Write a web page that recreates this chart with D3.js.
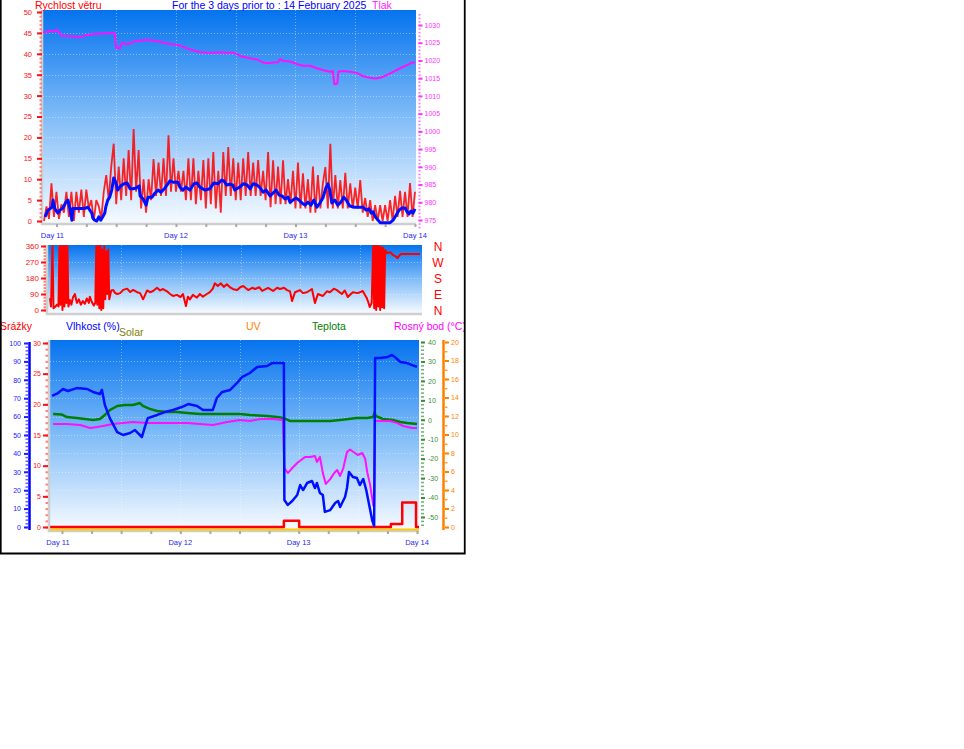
<!DOCTYPE html>
<html>
<head>
<meta charset="utf-8">
<script src="https://d3js.org/d3.v7.min.js"></script>
<style>
	body { margin: 0; background: #fff; }
	text { font-family: "Liberation Sans", Arial, sans-serif; }
</style>
</head>
<body>
<svg width="964" height="749"></svg>
<script>
// hours are counted from the start of Day 11
var dayLabels = ["Day 11", "Day 12", "Day 13", "Day 14"];
var dayHours = [0, 24, 48, 72];

var windTicks = [0, 5, 10, 15, 20, 25, 30, 35, 40, 45, 50];
var pressTicks = [975, 980, 985, 990, 995, 1000, 1005, 1010, 1015, 1020, 1025, 1030];
var dirTicks = [0, 90, 180, 270, 360];
var dirLetters = ["N", "E", "S", "W", "N"];
var humTicks = [0, 10, 20, 30, 40, 50, 60, 70, 80, 90, 100];
var rainTicks = [0, 5, 10, 15, 20, 25, 30];
var tempTicks = [-50, -40, -30, -20, -10, 0, 10, 20, 30, 40];
var uvTicks = [0, 2, 4, 6, 8, 10, 12, 14, 16, 18, 20];

// gusts, one reading every half hour from -2.5 h
var gustStart = -2.5, gustStep = 0.5;
var windGust = [
	0, 3.5, 0.5, 9, 1, 7, 0.5, 4, 2, 7, 1, 7, 0, 7, 2, 7.5,
	1, 7.5, 3, 5, 0, 5, 3.5, 0.5, 7, 11, 5, 13, 18.5, 4, 13, 5,
	15, 6, 17, 5, 22, 7, 17, 3, 10, 2, 10, 5, 14.8, 6, 14, 6,
	15, 6, 20.5, 7, 15, 7, 12, 7, 12, 5, 15, 5, 15, 4, 12, 5,
	14.6, 3, 15, 4, 16.5, 3, 12, 2, 16.5, 6, 17.7, 6, 15, 5, 14, 5,
	15, 6, 16.5, 6, 14, 6, 14.6, 6, 12, 5, 16.5, 3.3, 14.5, 4, 13, 4,
	14.5, 4, 10, 4, 12, 3, 14, 3, 11.4, 3, 10, 2, 13, 2, 11, 3,
	9, 12.9, 3, 18.5, 3, 11, 3, 9.8, 3, 11.5, 3, 9, 3, 8, 3, 9.8,
	2, 5.5, 1, 5, 0, 3.8, 0, 3.8, 0, 3.8, 0, 5, 0, 6, 1, 7.2,
	1, 7, 1, 9.1, 1, 7
];

var windAvg = [[-2.3,1.0],[-1.7,2.6],[-0.9,3.3],[-0.7,5],[-0.3,2.9],[0.3,1.9],[0.7,2.6],[1.3,3.1],[1.9,4.5],[2.3,5],[2.7,3.1],[3.1,0.2],[3.3,3],[4.3,3],[5.7,3],[6.3,3.3],[7.1,1.9],[7.3,0.7],[7.7,0.2],[8.1,0],[8.5,1],[8.9,0.2],[9.3,1],[9.7,1.9],[9.9,3.3],[10.3,5],[10.7,5.7],[11.1,7.4],[11.5,10.3],[11.9,9.3],[12.3,7.4],[12.9,8.4],[13.6,8.9],[14.2,9.1],[14.8,7.7],[15.4,7.7],[16.0,7.9],[16.6,8.4],[16.8,6],[17.4,5.3],[18.0,3.8],[18.4,5.7],[19.2,5.7],[19.8,6.7],[20.4,7.4],[21.0,6.9],[21.8,7.9],[22.8,9.6],[23.4,9.3],[24.4,9.3],[24.8,8.1],[25.4,7.4],[26.0,8.1],[26.8,7.4],[27.6,8.9],[28.2,9.1],[28.8,8.1],[29.8,7.4],[30.8,7.7],[31.6,9.1],[32.4,8.9],[33.2,9.8],[33.6,9.6],[34.2,8.6],[34.8,8.8],[35.4,8.6],[35.8,7.4],[36.2,7.7],[36.8,8.1],[37.5,8.9],[38.3,8.6],[38.9,7.7],[39.5,8.9],[40.3,8.6],[40.9,7.9],[41.5,6.9],[42.1,7.4],[42.9,6],[43.5,6.7],[44.1,7.4],[44.7,6.2],[45.3,6.0],[45.9,5.3],[46.5,5.7],[46.9,4.5],[47.5,5.0],[48.1,5.5],[48.7,5],[49.3,4.3],[49.9,3.8],[50.5,4.5],[51.1,3.8],[51.7,5],[52.3,3.3],[52.9,4.3],[53.5,5.5],[54.1,7.9],[54.5,8.9],[54.9,7.4],[55.3,4.3],[55.9,5],[56.5,3.8],[57.1,4.5],[57.7,5.7],[58.3,4.8],[58.9,3.6],[59.9,3.3],[60.9,3.3],[61.6,3.3],[62.2,2.6],[62.8,2.9],[63.2,1.9],[63.6,2.2],[64.0,1.0],[64.6,0.2],[65.0,-0.4],[66.0,-0.4],[67.0,-0.4],[67.6,0.2],[68.2,1.4],[68.8,2.6],[69.4,3.1],[70.0,3.1],[70.4,2.2],[70.8,1.7],[71.2,2.4],[71.6,1.9],[72.0,2.9]];

var pressure = [[-2.7,1027.9],[-1.7,1028.1],[-1.3,1028.4],[-0.7,1028.1],[0.1,1028.6],[0.5,1027.9],[1.1,1027.0],[2.1,1026.9],[4.1,1026.7],[4.7,1026.5],[6.1,1027.2],[8.1,1027.5],[10.1,1027.7],[11.7,1027.7],[12.0,1023.6],[12.7,1023.4],[13.2,1025.0],[13.6,1024.8],[14.4,1024.6],[15.4,1025.3],[16.8,1025.6],[18.2,1025.8],[19.4,1025.6],[20.8,1025.3],[22.2,1024.8],[23.4,1024.6],[24.8,1024.2],[26.2,1023.4],[27.4,1022.9],[28.8,1022.4],[30.2,1022.2],[31.4,1022.2],[32.8,1022.3],[34.2,1022.2],[35.4,1022.2],[36.4,1021.7],[37.2,1021.1],[38.9,1020.6],[40.3,1020.3],[41.5,1019.4],[42.5,1019.2],[43.5,1019.4],[44.5,1019.5],[44.9,1020.4],[45.5,1019.9],[46.9,1019.7],[48.3,1019.0],[49.5,1018.5],[50.9,1018.5],[52.3,1017.8],[53.5,1017.3],[54.9,1016.8],[55.5,1017.0],[55.8,1013.3],[56.4,1013.5],[56.6,1016.8],[57.5,1017.0],[58.9,1016.8],[60.3,1016.5],[61.5,1015.6],[62.9,1015.1],[64.0,1014.9],[65.0,1015.1],[66.4,1015.9],[67.6,1016.8],[69.0,1017.8],[70.4,1018.7],[71.4,1019.4],[72.0,1019.4]];

var windDir = [[-2.3,67],[-2.1,20],[-1.8,360],[-1.6,10],[-1.3,17],[-0.9,30],[-0.6,20],[-0.4,360],[-0.2,30],[0.0,360],[0.2,0],[0.4,360],[0.6,20],[0.8,360],[1.0,40],[1.2,360],[1.4,20],[1.7,56],[2.0,30],[2.3,70],[2.7,90],[3.1,40],[3.5,60],[3.9,30],[4.3,50],[4.7,35],[5.1,65],[5.5,40],[5.7,75],[6.1,45],[6.5,25],[6.8,40],[7.0,360],[7.2,30],[7.4,360],[7.6,10],[7.8,360],[8.0,0],[8.2,340],[8.4,10],[8.6,360],[8.8,60],[9.0,330],[9.2,90],[9.4,340],[9.6,60],[10.0,110],[10.4,112],[10.8,95],[11.2,90],[11.8,95],[12.4,113],[13.2,120],[13.8,101],[14.4,113],[15.2,100],[15.8,95],[16.4,60],[17.2,110],[17.8,100],[18.4,107],[19.2,125],[19.8,110],[20.4,118],[21.2,105],[21.8,90],[22.4,79],[23.2,85],[23.9,73],[24.4,90],[25.0,22],[25.4,75],[25.8,60],[26.4,85],[27.2,70],[27.8,90],[28.4,75],[29.2,90],[29.8,100],[30.4,120],[30.8,150],[31.4,135],[32.0,150],[32.6,130],[33.2,145],[33.8,129],[34.5,117],[35.3,112],[35.9,128],[36.5,135],[37.5,112],[38.3,125],[38.9,118],[39.7,128],[40.3,107],[41.5,124],[42.5,107],[43.3,125],[43.9,118],[44.7,125],[45.3,112],[45.9,105],[46.3,50],[46.9,100],[47.9,112],[48.5,95],[49.3,100],[50.3,118],[50.9,39],[51.5,90],[52.5,79],[53.3,105],[53.9,100],[54.7,120],[55.3,112],[56.3,90],[56.9,110],[57.5,73],[58.5,100],[59.5,95],[60.5,107],[61.3,68],[61.6,45],[61.9,17],[62.3,40],[62.6,360],[62.8,10],[63.0,360],[63.2,0],[63.4,360],[63.6,20],[63.8,360],[64.0,0],[64.2,355],[64.4,15],[64.6,350],[64.8,10],[65.0,337],[65.4,320],[66.0,325],[66.6,309],[67.2,300],[67.5,292],[67.8,305],[68.2,315],[70.0,315],[72.0,315]];

var humidity = [[-2.0,71.2],[-0.8,72.8],[0.2,75.0],[1.2,73.9],[3.0,75.5],[5.1,75.0],[6.3,73.4],[7.7,72.3],[8.1,74.5],[8.7,66.3],[9.7,59.2],[11.2,51.6],[12.4,50.0],[13.8,51.1],[14.8,52.7],[15.8,50.0],[16.2,48.9],[16.8,54.3],[17.4,59.2],[19.3,60.9],[20.9,62.5],[22.5,63.6],[24.3,65.2],[25.6,66.8],[27.4,65.8],[28.6,63.6],[30.6,63.6],[31.4,70.1],[32.5,73.4],[34.1,74.5],[35.5,78.3],[36.5,81.5],[38.1,83.7],[39.6,87.0],[41.6,87.5],[42.6,89.1],[45.0,89.1],[45.1,14.7],[45.8,12.0],[46.7,14.1],[47.7,17.4],[48.3,22.8],[48.9,20.1],[49.7,23.9],[50.7,25.0],[51.3,21.2],[51.7,23.9],[52.3,18.5],[52.9,17.4],[53.3,8.2],[54.4,9.2],[55.4,13.0],[56.0,14.1],[56.4,10.9],[57.4,16.3],[57.8,21.2],[58.2,29.9],[59.0,27.2],[59.8,26.6],[60.4,22.8],[61.1,26.1],[61.7,20.1],[62.1,14.7],[62.9,3.8],[63.3,0.5],[63.5,91.8],[64.5,91.8],[66.1,92.4],[66.9,93.5],[67.5,92.4],[68.6,89.7],[70.0,89.1],[71.0,88.0],[72.0,87.0]];

var temperature = [[-1.8,3.0],[0,2.7],[1.0,1.4],[3.0,0.9],[4.7,0.4],[6.3,-0.1],[7.7,0.4],[8.7,2.5],[9.7,5.0],[11.2,7.1],[12.8,7.6],[14.4,7.6],[15.8,8.6],[16.4,7.1],[17.8,5.6],[19.3,4.5],[21.3,4.0],[23.3,4.0],[25.4,3.5],[28.0,3.0],[30.6,3.0],[33.5,3.0],[36.1,3.0],[38.1,2.5],[41.6,2.0],[43.6,1.4],[45.0,0.9],[46.2,-0.6],[50.3,-0.6],[54.4,-0.6],[56.4,-0.1],[59.8,0.9],[61.9,0.9],[63.1,1.4],[63.4,4.0],[63.6,2.0],[65.1,0.4],[67.1,-0.1],[68.6,-1.1],[70.0,-1.6],[72.0,-2.2]];

var dewPoint = [[-1.8,-2.2],[1.0,-2.2],[3.7,-2.7],[5.7,-4.2],[7.1,-3.7],[8.3,-3.2],[10.3,-2.2],[12.4,-1.6],[14.4,-1.1],[17.2,-1.6],[19.9,-1.6],[22.5,-1.6],[25.4,-1.6],[28.0,-2.2],[30.6,-2.7],[33.5,-1.1],[36.1,-0.1],[38.1,-0.6],[40.2,0.4],[42.8,0.4],[44.8,-0.1],[45.1,-24.8],[45.8,-27.4],[46.7,-24.8],[47.7,-22.2],[48.5,-20.7],[49.3,-19.1],[50.3,-19.1],[51.3,-18.6],[51.7,-21.7],[52.3,-19.1],[52.9,-27.4],[53.5,-33.0],[54.4,-30.5],[55.2,-27.4],[55.8,-25.8],[56.4,-28.9],[57.0,-25.3],[57.8,-16.6],[58.4,-15.3],[59.4,-17.1],[60.0,-18.1],[60.9,-17.1],[61.5,-20.2],[61.9,-26.9],[62.5,-33.6],[63.1,-43.8],[63.3,-44.9],[63.5,-0.6],[66.5,-0.6],[67.9,-1.6],[69.2,-3.2],[71.0,-4.2],[72.0,-4.2]];

var rain = [[-2.4,0],[45.0,1.0],[48.1,0],[66.7,0.5],[69.0,4.0],[71.8,0],[72.4,0]];
var solar = [[-2.4,0],[72.4,0]];

var svg = d3.select("svg");
var defs = svg.append("defs");

var grad = defs.append("linearGradient")
	.attr("id", "bgGrad")
	.attr("x1", 0).attr("y1", 0).attr("x2", 0).attr("y2", 1);
grad.append("stop").attr("offset", "0%").attr("stop-color", "#0573ee");
grad.append("stop").attr("offset", "50%").attr("stop-color", "#80bcf8");
grad.append("stop").attr("offset", "100%").attr("stop-color", "#f6faff");

defs.append("clipPath").attr("id", "frameClip")
	.append("rect").attr("x", 0).attr("y", 0).attr("width", 465).attr("height", 553);

var root = svg.append("g").attr("clip-path", "url(#frameClip)");

// plain numbers, ascii minus
var plain = function(d) { return String(d); };

// scales
var xTop = d3.scaleLinear().domain([-2.7, 72.2]).range([43, 416]);
var yWind = d3.scaleLinear().domain([0, 50]).range([221, 12]);
var yPress = d3.scaleLinear().domain([975, 1030]).range([220, 25]);

var xMid = d3.scaleLinear().domain([-2.7, 72.2]).range([48, 421]);
var yDir = d3.scaleLinear().domain([0, 360]).range([310, 246]);

var xBot = d3.scaleLinear().domain([-2.43, 72.4]).range([50, 419]);
var yHum = d3.scaleLinear().domain([0, 100]).range([527, 343]);
var yRain = d3.scaleLinear().domain([0, 30]).range([527, 343]);
var yTemp = d3.scaleLinear().domain([-50, 40]).range([517, 342]);
var yUV = d3.scaleLinear().domain([0, 20]).range([527, 342]);
var ySolar = d3.scaleLinear().domain([0, 1000]).range([529.5, 342]);

function panel(x0, y0, x1, y1, xs, ys, gridVals) {
	root.append("rect")
		.attr("x", x0).attr("y", y0)
		.attr("width", x1 - x0).attr("height", y1 - y0)
		.attr("fill", "url(#bgGrad)");
	var g = root.append("g")
		.attr("stroke", "#ffffff")
		.attr("stroke-opacity", 0.4)
		.attr("stroke-dasharray", "1,2");
	g.selectAll("line.h").data(gridVals).enter().append("line")
		.attr("x1", x0).attr("x2", x1)
		.attr("y1", function(d) { return Math.round(ys(d)) + 0.5; })
		.attr("y2", function(d) { return Math.round(ys(d)) + 0.5; });
	g.selectAll("line.v").data([12, 24, 36, 48, 60]).enter().append("line")
		.attr("y1", y0).attr("y2", y1)
		.attr("x1", function(d) { return Math.round(xs(d)) + 0.5; })
		.attr("x2", function(d) { return Math.round(xs(d)) + 0.5; });
	// 3d edge
	root.append("path")
		.attr("d", "M" + (x0 - 1) + "," + y0 + "V" + (y1 + 1) + "H" + x1)
		.attr("fill", "none")
		.attr("stroke", "#cfcfcf")
		.attr("stroke-width", 2.5);
}

function axis(gen, x, color, fontSize, width) {
	var g = root.append("g")
		.attr("transform", "translate(" + x + ",0)")
		.call(gen);
	g.select(".domain").remove();
	g.attr("font-family", "Liberation Sans, Arial, sans-serif").attr("font-size", fontSize);
	g.selectAll(".tick line").attr("stroke", color).attr("stroke-width", width || 2);
	g.selectAll(".tick text").attr("fill", color);
	return g;
}

function timeTicks(xs, y, labelY) {
	var g = root.append("g")
		.attr("transform", "translate(0," + y + ")")
		.call(d3.axisBottom(xs).tickValues([0, 6, 12, 18, 24, 30, 36, 42, 48, 54, 60, 66, 72]).tickSize(3).tickFormat(""));
	g.select(".domain").remove();
	g.selectAll(".tick line").attr("stroke", "#a8a8a8").attr("stroke-width", 2);
	root.append("g").selectAll("text")
		.data(dayHours)
		.enter()
		.append("text")
		.attr("x", function(d) { return xs(d) - (d == 0 ? 4 : 0); })
		.attr("y", labelY)
		.attr("text-anchor", "middle")
		.attr("fill", "#2828f0")
		.style("font-size", "7.5px")
		.text(function(d, i) { return dayLabels[i]; });
}

function label(x, y, txt, color, anchor) {
	root.append("text")
		.attr("x", x).attr("y", y)
		.attr("fill", color)
		.attr("text-anchor", anchor || "start")
		.style("font-size", "10.5px")
		.text(txt);
}

function drawLine(data, xs, ys, color, width, curve) {
	root.append("path")
		.datum(data)
		.attr("fill", "none")
		.attr("stroke", color)
		.attr("stroke-width", width)
		.attr("stroke-linejoin", "round")
		.attr("d", d3.line()
			.x(function(d) { return xs(d[0]); })
			.y(function(d) { return ys(d[1]); })
			.curve(curve || d3.curveLinear));
}

// ---------- top panel: wind speed + pressure ----------
panel(43, 10, 416, 223, xTop, yWind, [5, 10, 15, 20, 25, 30, 35, 40, 45]);

axis(d3.axisLeft(yWind).tickValues(d3.range(0, 51)).tickSize(2.5).tickFormat(""), 42, "#ff8080", 7);
axis(d3.axisLeft(yWind).tickValues(windTicks).tickSize(5).tickPadding(5).tickFormat(plain), 42, "#ff1010", 7.5);
axis(d3.axisRight(yPress).tickValues(d3.range(973, 1034)).tickSize(2).tickFormat(""), 418.5, "#ff70ff", 7, 1.5);
axis(d3.axisRight(yPress).tickValues(pressTicks).tickSize(4).tickPadding(2).tickFormat(plain), 418.5, "#ff30ff", 7);

timeTicks(xTop, 224, 238);

root.append("path")
	.datum(windGust)
	.attr("fill", "none")
	.attr("stroke", "#ff0000")
	.attr("stroke-width", 1.8)
	.attr("stroke-opacity", 0.85)
	.attr("d", d3.line()
		.x(function(d, i) { return xTop(gustStart + i * gustStep); })
		.y(function(d) { return yWind(d); }));

drawLine(windAvg, xTop, yWind, "#0010ff", 3);
drawLine(pressure, xTop, yPress, "#ff10ff", 2);

label(35, 9, "Rychlost větru", "#ff0000");
label(172, 9, "For the 3 days prior to : 14 February 2025", "#0000ff");
label(372, 9, "Tlak", "#ff20ff");

// ---------- middle panel: wind direction ----------
panel(48, 245, 422, 313, xMid, yDir, [90, 180, 270]);

axis(d3.axisLeft(yDir).tickValues(d3.range(0, 361, 18)).tickSize(2.5).tickFormat(""), 46, "#ff8080", 7);
axis(d3.axisLeft(yDir).tickValues(dirTicks).tickSize(5).tickPadding(2).tickFormat(plain), 46, "#ff1010", 8);

drawLine(windDir, xMid, yDir, "#ff0000", 2);

root.append("g").selectAll("text")
	.data(dirTicks)
	.enter()
	.append("text")
	.attr("x", 438)
	.attr("y", function(d) { return yDir(d); })
	.attr("dy", "0.38em")
	.attr("text-anchor", "middle")
	.attr("fill", "#ff0000")
	.style("font-size", "12px")
	.text(function(d, i) { return dirLetters[i]; });

// ---------- bottom panel: rain, humidity, temperature ----------
panel(50, 340, 419, 530, xBot, yHum, [10, 20, 30, 40, 50, 60, 70, 80, 90]);

root.append("line")
	.attr("x1", 29.5).attr("x2", 29.5).attr("y1", 342).attr("y2", 530)
	.attr("stroke", "#0000ff").attr("stroke-width", 2.5);
axis(d3.axisLeft(yHum).tickValues(d3.range(0, 101, 2)).tickSize(2.5).tickFormat(""), 28, "#6060ff", 7, 1.5);
axis(d3.axisLeft(yHum).tickValues(humTicks).tickSize(4).tickPadding(3).tickFormat(plain), 28, "#2020ff", 7);

axis(d3.axisLeft(yRain).tickValues(d3.range(0, 31)).tickSize(2.5).tickFormat(""), 48, "#ff8080", 7);
axis(d3.axisLeft(yRain).tickValues(rainTicks).tickSize(5).tickPadding(2).tickFormat(plain), 48, "#ff1010", 7);

axis(d3.axisRight(yTemp).tickValues(d3.range(-54, 41, 2)).tickSize(3).tickFormat(""), 421, "#70b070", 7, 1.5);
axis(d3.axisRight(yTemp).tickValues(tempTicks).tickSize(4).tickPadding(3).tickFormat(plain), 421, "#3c8c3c", 7);

root.append("line")
	.attr("x1", 443.5).attr("x2", 443.5).attr("y1", 340).attr("y2", 530)
	.attr("stroke", "#ff8000").attr("stroke-width", 2.5);
axis(d3.axisRight(yUV).tickValues(d3.range(0, 21)).tickSize(2.5).tickFormat(""), 445, "#ffa040", 7, 1.5);
axis(d3.axisRight(yUV).tickValues(uvTicks).tickSize(4).tickPadding(2).tickFormat(plain), 445, "#ff8000", 7);

timeTicks(xBot, 531, 545);

drawLine(solar, xBot, ySolar, "#ffcc00", 2);
drawLine(rain, xBot, yRain, "#ff0000", 2.5, d3.curveStepAfter);
drawLine(temperature, xBot, yTemp, "#008000", 2.5);
drawLine(dewPoint, xBot, yTemp, "#ff10ff", 2);
drawLine(humidity, xBot, yHum, "#0010ff", 2.5);

label(0, 330, "Srážky", "#ff0000");
label(66, 330, "Vlhkost (%)", "#0000ff");
label(119, 336, "Solar", "#808000");
label(246, 330, "UV", "#ff8000");
label(312, 330, "Teplota", "#008000");
label(394, 330, "Rosný bod (°C)", "#ff00ff");

// frame
svg.append("path")
	.attr("d", "M0.75,0V553.5H464.75V0")
	.attr("fill", "none")
	.attr("stroke", "#000000")
	.attr("stroke-width", 1.8);
</script>
</body>
</html>
